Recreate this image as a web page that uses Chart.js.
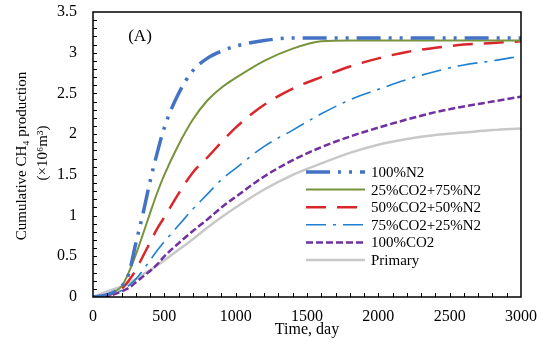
<!DOCTYPE html>
<html>
<head>
<meta charset="utf-8">
<script src="https://cdn.jsdelivr.net/npm/chart.js@4.4.1/dist/chart.umd.min.js"></script>
<style>
    body { margin: 0; background: #fff; }
    #chart { display: block; }
</style>
</head>
<body>
<canvas id="chart" width="546" height="345"></canvas>
<script>
// Time axis (days) shared by all runs
const days = [0, 100, 200, 250, 300, 350, 400, 450, 500, 600, 700, 800, 900, 1000, 1200, 1400, 1600, 1800, 2000, 2200, 2400, 2600, 2800, 3000];

// Cumulative CH4 production, x10^6 m3
const n2_100 = [0, 0.03, 0.13, 0.28, 0.66, 1.02, 1.42, 1.77, 2.08, 2.5, 2.78, 2.93, 3.02, 3.08, 3.15, 3.18, 3.18, 3.18, 3.18, 3.18, 3.18, 3.18, 3.18, 3.18];
const co2_25 = [0, 0.03, 0.13, 0.3, 0.52, 0.77, 1.03, 1.28, 1.5, 1.87, 2.18, 2.41, 2.57, 2.69, 2.9, 3.05, 3.14, 3.15, 3.15, 3.15, 3.15, 3.15, 3.15, 3.15];
const co2_50 = [0, 0.02, 0.1, 0.2, 0.33, 0.5, 0.67, 0.84, 0.98, 1.27, 1.53, 1.71, 1.9, 2.08, 2.36, 2.56, 2.7, 2.83, 2.93, 3.01, 3.06, 3.1, 3.12, 3.14];
const co2_75 = [0, 0.02, 0.08, 0.14, 0.22, 0.33, 0.45, 0.57, 0.68, 0.88, 1.08, 1.26, 1.44, 1.58, 1.85, 2.05, 2.25, 2.42, 2.55, 2.67, 2.77, 2.85, 2.9, 2.96];
const co2_100 = [0, 0.01, 0.07, 0.11, 0.18, 0.25, 0.32, 0.4, 0.5, 0.66, 0.81, 0.95, 1.1, 1.23, 1.48, 1.68, 1.84, 1.97, 2.08, 2.18, 2.27, 2.34, 2.4, 2.46];
const primary = [0, 0.07, 0.13, 0.17, 0.22, 0.28, 0.33, 0.39, 0.45, 0.58, 0.71, 0.85, 0.98, 1.1, 1.32, 1.5, 1.64, 1.77, 1.87, 1.94, 1.99, 2.02, 2.05, 2.07];

const seriesLabels = ['100%N2', '25%CO2+75%N2', '50%CO2+50%N2', '75%CO2+25%N2', '100%CO2', 'Primary'];

const FONT = "'Liberation Serif', 'Times New Roman', serif";

function toPoints(values) {
    return values.map((v, i) => ({ x: days[i], y: v }));
}

function line(label, values, color, width, dash) {
    return {
        label: label,
        data: toPoints(values),
        borderColor: color,
        borderWidth: width,
        borderDash: dash,
        pointRadius: 0,
        fill: false,
        cubicInterpolationMode: 'monotone'
    };
}

// keep the plot box where the reference has it
function noOverflow(scale) {
    scale.paddingTop = 0;
    scale.paddingBottom = 0;
    scale.paddingLeft = 0;
    scale.paddingRight = 0;
}

// Frame, inward ticks, panel tag, legend and axis titles
const decor = {
    id: 'decor',
    afterDraw(chart) {
        const ctx = chart.ctx;
        const a = chart.chartArea;
        const x = chart.scales.x;
        const y = chart.scales.y;
        ctx.save();
        ctx.setLineDash([]);

        ctx.strokeStyle = '#000';
        ctx.lineWidth = 1.5;
        ctx.beginPath();
        ctx.rect(a.left, a.top, a.right - a.left, a.bottom - a.top);
        ctx.stroke();

        ctx.lineWidth = 1;
        ctx.beginPath();
        for (let d = 100; d < 3000; d += 100) {
            const px = Math.round(x.getPixelForValue(d)) + 0.5;
            ctx.moveTo(px, a.bottom);
            ctx.lineTo(px, a.bottom - 4);
        }
        for (let k = 1; k < 35; k++) {
            const py = Math.round(y.getPixelForValue(k / 10)) + 0.5;
            ctx.moveTo(a.left, py);
            ctx.lineTo(a.left + 4, py);
        }
        ctx.stroke();

        ctx.fillStyle = '#000';
        ctx.font = '17px ' + FONT;
        ctx.textAlign = 'center';
        ctx.textBaseline = 'middle';
        ctx.fillText('(A)', 140, 37);

        // legend
        ctx.font = '15px ' + FONT;
        ctx.textAlign = 'left';
        chart.data.datasets.forEach((ds, i) => {
            const yy = 172 + i * 17.6;
            ctx.beginPath();
            ctx.setLineDash(ds.borderDash || []);
            ctx.strokeStyle = ds.borderColor;
            ctx.lineWidth = ds.borderWidth;
            ctx.moveTo(306, yy);
            ctx.lineTo(365, yy);
            ctx.stroke();
            ctx.setLineDash([]);
            ctx.fillText(ds.label, 371, yy + 1);
        });

        // x title
        ctx.textAlign = 'center';
        ctx.textBaseline = 'alphabetic';
        ctx.font = '16px ' + FONT;
        ctx.fillText('Time, day', (a.left + a.right) / 2, 334);

        // y title
        ctx.font = '15px ' + FONT;
        ctx.textBaseline = 'middle';
        ctx.translate(22, 156);
        ctx.rotate(-Math.PI / 2);
        ctx.fillText('Cumulative CH\u2084 production', 0, 0);
        ctx.fillText('(\u00d710\u2076m\u00b3)', 3, 21);
        ctx.restore();
    }
};

new Chart(document.getElementById('chart'), {
    type: 'line',
    data: {
        datasets: [
            line(seriesLabels[0], n2_100, '#4472C4', 3.5, [24, 8, 3, 8, 3, 8]),
            line(seriesLabels[1], co2_25, '#77933C', 2, []),
            line(seriesLabels[2], co2_50, '#D9262B', 2.5, [20, 11]),
            line(seriesLabels[3], co2_75, '#1F7FD0', 1.6, [20, 7, 3, 7]),
            line(seriesLabels[4], co2_100, '#7030A0', 2.5, [7, 3]),
            line(seriesLabels[5], primary, '#C8C8C8', 2.5, [])
        ]
    },
    options: {
        responsive: false,
        animation: false,
        layout: { padding: { top: 12, right: 25, left: 0, bottom: 0 } },
        plugins: {
            legend: { display: false },
            tooltip: { enabled: false }
        },
        scales: {
            x: {
                type: 'linear',
                min: 0,
                max: 3000,
                grid: { display: false, drawTicks: false },
                border: { display: false },
                ticks: {
                    stepSize: 500,
                    padding: 10,
                    color: '#000',
                    font: { family: FONT, size: 16 },
                    callback: function (value) { return String(value); }
                },
                afterFit: function (scale) {
                    scale.height = 48;
                    noOverflow(scale);
                }
            },
            y: {
                min: 0,
                max: 3.5,
                grid: { display: false, drawTicks: false },
                border: { display: false },
                ticks: {
                    stepSize: 0.5,
                    padding: 16,
                    color: '#000',
                    font: { family: FONT, size: 16 },
                    callback: function (value) { return String(value); }
                },
                afterFit: function (scale) {
                    scale.width = 93;
                    noOverflow(scale);
                }
            }
        }
    },
    plugins: [decor]
});
</script>
</body>
</html>
